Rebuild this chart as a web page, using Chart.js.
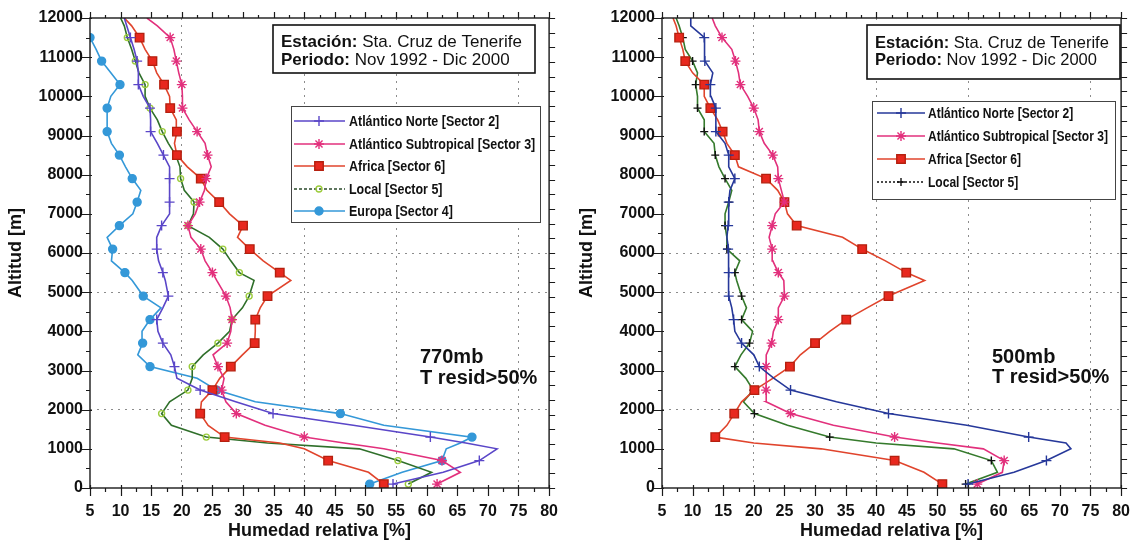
<!DOCTYPE html>
<html>
<head>
<meta charset="utf-8">
<script src="https://cdn.jsdelivr.net/npm/chart.js"></script>
<style>
  body { margin: 0; background: #fff; }
  #wrap { position: relative; width: 1144px; height: 542px; }
  canvas { position: absolute; top: 0; }
</style>
</head>
<body>
<div id="wrap">
  <canvas id="left" width="572" height="542" style="left:0"></canvas>
  <canvas id="right" width="572" height="542" style="left:572px"></canvas>
</div>
<script>
// altitude levels [m] shared by every profile
const altitudes = [100, 400, 700, 1000, 1150, 1300, 1600, 1900, 2200, 2500, 2800, 3100, 3400, 3700,
  4000, 4300, 4600, 4900, 5300, 5500, 5800, 6100, 6400, 6700, 7000, 7300, 7600, 7900, 8200, 8500,
  8800, 9100, 9400, 9700, 10000, 10300, 10600, 10900, 11200, 11500, 11800, 12000];

// 770 mb panel, relative humidity [%]
const norte770 = [54.5, 62.7, 68.6, 71.5, 66.4, 60.6, 48, 34.9, 28.8, 23, 19.2, 18.8, 18.2, 16.9,
  16.1, 15.9, 16.9, 17.8, 17.3, 16.9, 16.2, 15.9, 15.9, 16.7, 18.0, 18.0, 18.0, 18.0, 18.0, 17.0,
  16.0, 14.9, 14.9, 14.8, 13.7, 12.9, 12.9, 12.7, 12.2, 11.6, 11.0, 10.6];
const subtrop770 = [61.7, 65.5, 62.5, 53, 46.5, 40, 33.6, 28.9, 27.2, 26.5, 26.9, 25.9, 25.1, 27.4,
  28.0, 28.2, 27.9, 27.2, 25.7, 25.0, 23.8, 23.1, 21.5, 21.0, 22.2, 22.9, 23.7, 24.0, 24.8, 24.2,
  23.8, 22.5, 21.2, 20.1, 20.1, 20.0, 19.5, 19.1, 18.7, 18.1, 16.0, 14.3];
const africa770 = [53, 50.5, 43.9, 40, 36, 27.0, 24.3, 23.0, 23.2, 25.0, 26.2, 28.0, 29.9, 31.9,
  32.0, 32.0, 32.8, 34.0, 37.8, 36.0, 33.3, 31.1, 29.1, 30.0, 27.8, 26.1, 24.1, 23.1, 20.9, 19.2,
  18.8, 19.2, 19.1, 18.1, 18.0, 17.1, 15.9, 15.2, 14.0, 13.1, 11.8, 10.6];
const local770 = [57, 60.8, 55.3, 49, 34, 24.0, 18.3, 16.7, 18.0, 21.0, 21.7, 21.7, 23.5, 25.9,
  27.8, 28.2, 29.9, 31.0, 31.8, 29.4, 28.0, 26.7, 24.5, 21.0, 21.9, 22.0, 20.4, 19.8, 19.7, 19.0,
  17.8, 16.8, 16.0, 14.8, 14.0, 14.0, 13.0, 12.4, 11.8, 11.1, 10.6, 10.0];
const europa770 = [50.7, 56, 62.5, 63.2, 65.5, 67.4, 53, 45.9, 32, 25.7, 22.5, 14.8, 12.8, 13.6,
  13.5, 14.8, 16.6, 13.7, 11.9, 10.7, 8.5, 8.7, 7.8, 9.8, 12.0, 12.7, 13.3, 11.9, 10.8, 9.8,
  8.5, 7.8, 7.8, 7.8, 8.4, 9.9, 8.4, 6.9, 6.0, 5.0, null, null];

// 500 mb panel
const norte500 = [55, 62.5, 67.8, 71.8, 71, 64.9, 54.8, 42.0, 33.5, 26.0, 23.3, 20.9, 20.0, 18.0,
  16.9, 16.7, 16.4, 15.9, 15.9, 15.9, 15.9, 15.8, 15.6, 15.8, 15.9, 15.9, 16.1, 16.9, 15.9, 15.9,
  15.3, 13.8, 13.8, 13.8, 13.0, 12.9, 13.3, 12.0, 12.0, 11.9, 9.7, 9.7];
const subtrop500 = [56.5, 60.6, 60.9, 57.5, 50, 43.0, 33, 26.0, 22.0, 22.0, 22.0, 22.0, 22.1, 22.9,
  23.2, 24.0, 24.0, 25.0, 24.9, 24.0, 23.1, 23.0, 22.5, 23.0, 23.5, 25.0, 24.5, 24.0, 23.9, 23.1,
  21.7, 20.9, 20.7, 20.0, 19.0, 17.8, 17.5, 17.0, 16.4, 14.8, 13.7, 13.2];
const africa500 = [50.8, 47.8, 43.0, 31, 20, 13.7, 15.6, 16.8, 18.0, 20.1, 23.1, 25.9, 27.6, 30.0,
  32.4, 35.1, 38.5, 42.0, 47.9, 44.9, 41.5, 37.7, 34.5, 27.0, 25.5, 25.0, 23.9, 22.0, 17.5, 16.9,
  15.6, 14.9, 14.1, 12.9, 11.9, 11.9, 10.0, 8.8, 8.4, 7.8, 7.3, 6.8];
const local500 = [54.6, 59.8, 58.8, 52.7, 40, 32.4, 25.5, 20.1, 18.3, 19.9, 18.7, 16.9, 17.9, 19.3,
  19.8, 18.0, 18.8, 18.0, 17.2, 16.9, 17.7, 15.6, 15.6, 15.3, 15.3, 15.9, 16.4, 15.3, 14.3, 13.7,
  13.5, 11.9, 11.9, 10.8, 10.8, 10.5, 10.8, 10.0, 8.8, 8.4, 7.8, 7.3];

const xTicks = { min: 5, max: 80, step: 5 };
const yTicks = { min: 0, max: 12000, step: 1000 };
const xGridAt = [20, 40, 55, 75];
const yGridAt = [2000, 5000, 6000];

const FONT = '"Liberation Sans", Arial, Helvetica, sans-serif';
Chart.defaults.font.family = FONT;

// markers every 600 m starting at 100 m
const isMarker = alt => alt != null && (alt - 100) % 600 === 0;

function profile(label, values, color, pointStyle, radius, fill, extra) {
  return Object.assign({
    label,
    data: altitudes.map((a, i) => values[i] == null ? null : { x: values[i], y: a }).filter(p => p),
    showLine: true,
    borderColor: color,
    borderWidth: 1.6,
    backgroundColor: fill,
    pointBorderColor: color,
    pointBackgroundColor: fill,
    pointStyle,
    pointBorderWidth: 1.4,
    markerRadius: radius,
    pointRadius: c => isMarker(c.raw && c.raw.y) ? radius : 0,
    pointHoverRadius: 0,
    tension: 0
  }, extra || {});
}

function scales(titlePad) {
  const tickFont = { family: FONT, size: 16, weight: 'bold' };
  return {
    x: {
      type: 'linear', min: xTicks.min, max: xTicks.max,
      ticks: { stepSize: xTicks.step, padding: 14, color: '#111', font: tickFont, autoSkip: false,
        maxRotation: 0, callback: v => String(v) },
      grid: { drawTicks: false, lineWidth: 1,
        color: c => xGridAt.includes(c.tick && c.tick.value) ? '#8c8c8c' : 'rgba(0,0,0,0)' },
      border: { display: false, dash: [2, 5] },
      title: { display: true, text: 'Humedad relativa [%]', color: '#111',
        font: { family: FONT, size: 18, weight: 'bold' }, padding: { top: 0, bottom: 0 } },
      afterFit: s => { s.height = 54; }
    },
    y: {
      type: 'linear', min: yTicks.min, max: yTicks.max,
      ticks: { stepSize: yTicks.step, padding: 7, color: '#111', font: tickFont, autoSkip: false,
        callback: v => String(v) },
      grid: { drawTicks: false, lineWidth: 1,
        color: c => yGridAt.includes(c.tick && c.tick.value) ? '#8c8c8c' : 'rgba(0,0,0,0)' },
      border: { display: false, dash: [2, 5] },
      title: { display: true, text: 'Altitud [m]', color: '#111',
        font: { family: FONT, size: 18, weight: 'bold' }, padding: { top: titlePad, bottom: 0 } },
      afterFit: s => { s.width = 90; }
    }
  };
}

function marker(ctx, style, r, x, y) {
  if (Chart.helpers && Chart.helpers.drawPoint) {
    Chart.helpers.drawPoint(ctx, { pointStyle: style, radius: r, rotation: 0, borderWidth: ctx.lineWidth }, x, y);
  } else {
    ctx.beginPath(); ctx.arc(x, y, r, 0, Math.PI * 2); ctx.fill(); ctx.stroke();
  }
}

function mixedText(ctx, x, y, parts, size) {
  for (const [txt, bold] of parts) {
    ctx.font = (bold ? 'bold ' : '') + size + 'px ' + FONT;
    ctx.fillText(txt, x, y);
    x += ctx.measureText(txt).width;
  }
}

const decor = {
  id: 'decor',
  afterDraw(chart, args, o) {
    const { ctx, chartArea: a, scales: { x, y } } = chart;
    ctx.save();
    // frame and ticks on all four sides
    ctx.strokeStyle = '#1a1a1a';
    ctx.lineWidth = 1.4;
    ctx.strokeRect(a.left, a.top, a.right - a.left, a.bottom - a.top);
    ctx.lineWidth = 1.2;
    ctx.beginPath();
    for (let v = xTicks.min; v <= xTicks.max + 0.01; v += 2.5) {
      const px = Math.round(x.getPixelForValue(v)) + 0.5;
      const major = v % 5 === 0;
      ctx.moveTo(px, a.bottom - (major ? 3 : 0)); ctx.lineTo(px, a.bottom + (major ? 8 : 4));
      ctx.moveTo(px, a.top); ctx.lineTo(px, a.top - (major ? 6 : 3));
    }
    for (let h = yTicks.min; h <= yTicks.max; h += 500) {
      const py = Math.round(y.getPixelForValue(h)) + 0.5;
      const major = h % 1000 === 0;
      ctx.moveTo(a.left - (major ? 8 : 4), py); ctx.lineTo(a.left + (major ? 2 : 0), py);
    }
    for (let h = yTicks.min; h <= yTicks.max; h += 375) {
      const py = Math.round(y.getPixelForValue(h)) + 0.5;
      ctx.moveTo(a.right, py); ctx.lineTo(a.right + 6, py);
    }
    ctx.stroke();

    // station box
    const s = o.station;
    ctx.fillStyle = '#fff';
    ctx.fillRect(s.x, s.y, s.w, s.h);
    ctx.strokeStyle = '#111'; ctx.lineWidth = 1.6;
    ctx.strokeRect(s.x, s.y, s.w, s.h);
    ctx.fillStyle = '#111'; ctx.textBaseline = 'middle'; ctx.textAlign = 'left';
    mixedText(ctx, s.tx, s.l1, [['Estación:', true], [' Sta. Cruz de Tenerife', false]], s.size);
    mixedText(ctx, s.tx, s.l2, [['Periodo:', true], [' Nov 1992 - Dic 2000', false]], s.size);

    // legend
    const lg = o.legend;
    ctx.fillStyle = '#fff';
    ctx.fillRect(lg.x, lg.y, lg.w, lg.h);
    ctx.strokeStyle = '#444'; ctx.lineWidth = 1;
    ctx.strokeRect(lg.x + 0.5, lg.y + 0.5, lg.w, lg.h);
    chart.data.datasets.forEach((d, i) => {
      const ry = lg.rows[i];
      ctx.strokeStyle = d.legendLine || d.borderColor; ctx.lineWidth = 1.4;
      ctx.setLineDash(d.legendDash || []);
      ctx.beginPath(); ctx.moveTo(lg.x0, ry); ctx.lineTo(lg.x1, ry); ctx.stroke();
      ctx.setLineDash([]);
      ctx.fillStyle = d.pointBackgroundColor; ctx.strokeStyle = d.pointBorderColor;
      ctx.lineWidth = d.pointBorderWidth;
      marker(ctx, d.pointStyle, d.markerRadius, lg.mx, ry);
      ctx.save();
      ctx.translate(lg.tx, ry + 1);
      ctx.scale(lg.squeeze, 1);
      ctx.fillStyle = '#111'; ctx.font = 'bold ' + lg.size + 'px ' + FONT; ctx.textBaseline = 'middle';
      ctx.fillText(d.label, 0, 0);
      ctx.restore();
    });

    // pressure level note
    const n = o.note;
    ctx.fillStyle = '#111'; ctx.font = 'bold 20px ' + FONT; ctx.textBaseline = 'middle';
    ctx.fillText(n.t1, n.x, n.y1);
    ctx.fillText('T resid>50%', n.x, n.y2);
    ctx.restore();
  }
};

function makeChart(id, datasets, padRight, titlePad, deco) {
  return new Chart(document.getElementById(id), {
    type: 'scatter',
    data: { datasets },
    options: {
      responsive: false,
      animation: false,
      events: [],
      devicePixelRatio: 1,
      layout: { padding: { left: 0, right: padRight, top: 18, bottom: 0 } },
      scales: scales(titlePad),
      plugins: { legend: { display: false }, tooltip: { enabled: false }, decor: deco }
    },
    plugins: [decor]
  });
}

makeChart('left', [
  profile('Atlántico Norte [Sector 2]', norte770, '#5a46c8', 'cross', 5, '#5a46c8'),
  profile('Atlántico Subtropical [Sector 3]', subtrop770, '#e2307c', 'star', 5, '#e2307c'),
  profile('Africa [Sector 6]', africa770, '#e0442c', 'rect', 6, '#e8281e', { pointBorderColor: '#b5200f' }),
  profile('Local [Sector 5]', local770, '#2f6f2a', 'circle', 3, 'rgba(0,0,0,0)',
    { pointBorderColor: '#9ccc3c', legendDash: [3, 2], legendLine: '#2a4a2a' }),
  profile('Europa [Sector 4]', europa770, '#3498d8', 'circle', 4, '#3498d8')
], 10, 5, {
  station: { x: 273, y: 25, w: 262, h: 48, tx: 281, l1: 42, l2: 60, size: 17 },
  legend: { x: 291, y: 106, w: 249, h: 116, rows: [121, 144, 166, 189, 211],
    x0: 294, x1: 345, mx: 319, tx: 349, size: 14, squeeze: 0.89 },
  note: { x: 420, y1: 357, y2: 378, t1: '770mb' }
});

makeChart('right', [
  profile('Atlántico Norte [Sector 2]', norte500, '#26389a', 'cross', 5, '#26389a'),
  profile('Atlántico Subtropical [Sector 3]', subtrop500, '#e2307c', 'star', 5, '#e2307c'),
  profile('Africa [Sector 6]', africa500, '#e0442c', 'rect', 6, '#e8281e', { pointBorderColor: '#b5200f' }),
  profile('Local [Sector 5]', local500, '#357a2c', 'cross', 4, '#111',
    { pointBorderColor: '#111', legendDash: [2, 2], legendLine: '#111' })
], 13, 4, {
  station: { x: 295, y: 25, w: 253, h: 54, tx: 303, l1: 43, l2: 60, size: 16.5 },
  legend: { x: 300, y: 101, w: 243, h: 98, rows: [113, 136, 159, 182],
    x0: 305, x1: 353, mx: 329, tx: 356, size: 14, squeeze: 0.86 },
  note: { x: 420, y1: 357, y2: 377, t1: '500mb' }
});
</script>
</body>
</html>
